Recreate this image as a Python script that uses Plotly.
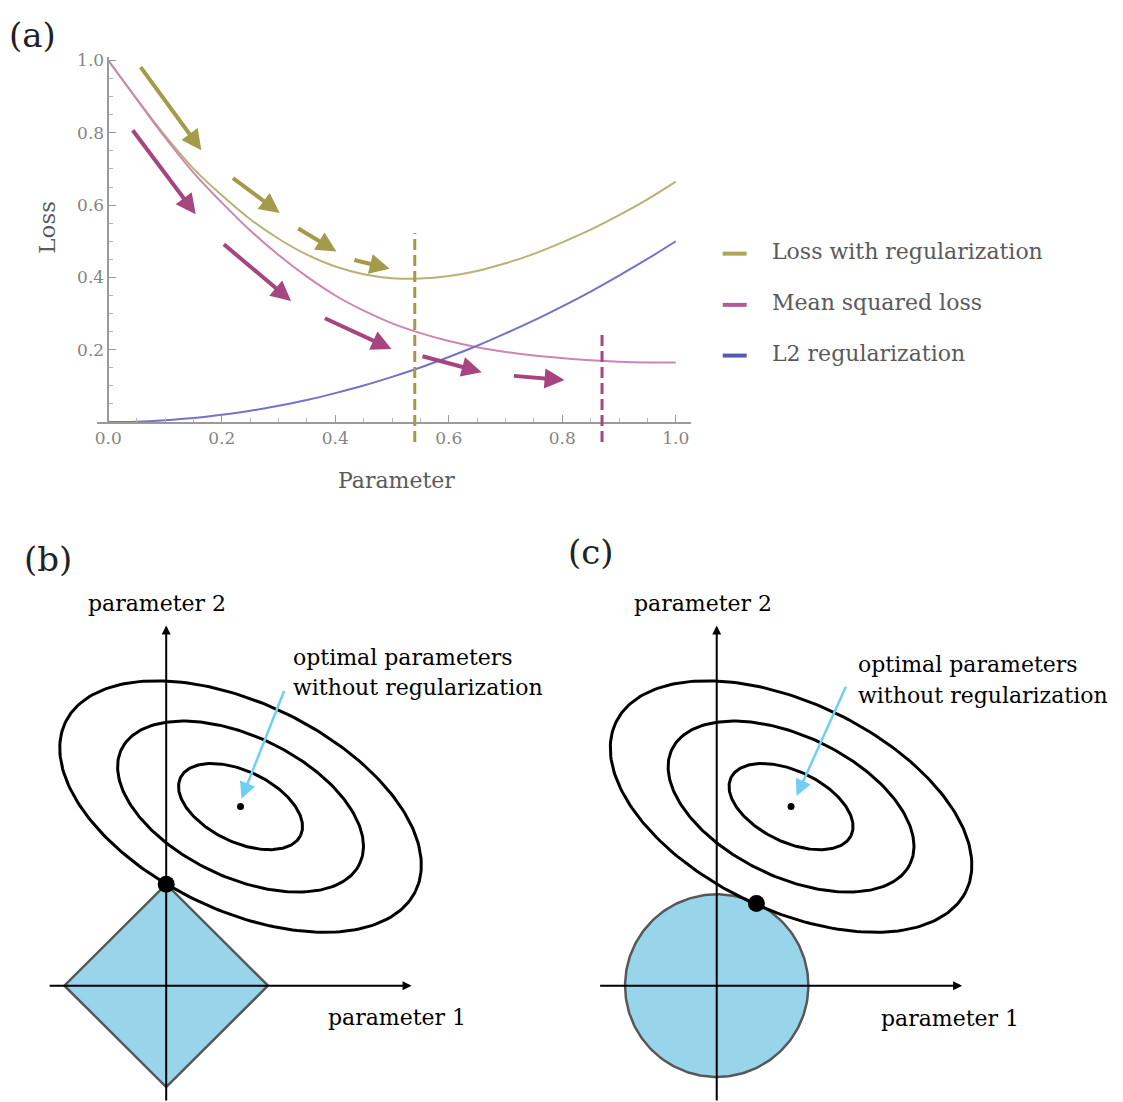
import numpy as np
import plotly.graph_objects as go

W, H = 1123, 1102
SERIF = "DejaVu Serif"

# ---------------- (a) loss vs parameter ----------------
param = [0.00, 0.05, 0.10, 0.15, 0.20, 0.25, 0.30, 0.35, 0.40, 0.45, 0.50,
         0.55, 0.60, 0.65, 0.70, 0.75, 0.80, 0.85, 0.90, 0.95, 1.00]
loss_with_reg = [1.000, 0.894, 0.792, 0.701, 0.627, 0.561, 0.507, 0.463, 0.430, 0.409, 0.398,
                 0.397, 0.404, 0.418, 0.439, 0.465, 0.497, 0.532, 0.572, 0.616, 0.665]
mean_squared = [1.000, 0.893, 0.787, 0.690, 0.607, 0.530, 0.462, 0.402, 0.350, 0.308, 0.273,
                0.246, 0.224, 0.207, 0.194, 0.184, 0.177, 0.171, 0.167, 0.165, 0.165]
l2_reg = [0.000, 0.001, 0.005, 0.011, 0.020, 0.031, 0.045, 0.061, 0.080, 0.101, 0.125,
          0.151, 0.180, 0.211, 0.245, 0.281, 0.320, 0.361, 0.405, 0.451, 0.500]
series_names = ["Loss with regularization", "Mean squared loss", "L2 regularization"]
x_ticks = [0.0, 0.2, 0.4, 0.6, 0.8, 1.0]
y_ticks = [0.2, 0.4, 0.6, 0.8, 1.0]

# minima marked with dashed lines: (parameter, top of line)
reg_min = (0.54, 0.523)
mse_min = (0.87, 0.248)
dash_bottom = -0.055

# gradient-descent steps: tail (x0, y0) -> tip (x1, y1)
gold_x0 = [0.055, 0.217, 0.332, 0.431]
gold_y0 = [0.986, 0.678, 0.538, 0.449]
gold_x1 = [0.164, 0.302, 0.402, 0.496]
gold_y1 = [0.752, 0.578, 0.472, 0.424]
pink_x0 = [0.041, 0.201, 0.379, 0.551, 0.712]
pink_y0 = [0.811, 0.495, 0.289, 0.183, 0.128]
pink_x1 = [0.154, 0.322, 0.499, 0.658, 0.804]
pink_y1 = [0.575, 0.335, 0.202, 0.138, 0.116]

curve_colors = ["#b9b274", "#cc86b3", "#7373c9"]
legend_colors = ["#aea55a", "#b45a95", "#5559b3"]
gold_arrow = "#a39b49"
pink_arrow = "#a6457f"
axis_gray = "#9a9a9a"

# ---------------- (b), (c) constraint diagrams ----------------
ellipse_center = (0.73, 1.765)
ellipse_semi = (1.91, 1.02)
ellipse_angle = -25.85
contour_levels = [1.0, 0.68, 0.343]
l1_radius = 1.0
l2_radius = 0.90
l1_solution = (0.0, 1.0)
l2_solution = (0.39, 0.81)
axis_extent = dict(left=-1.16, right=2.41, top=3.55)
region_fill = "#98d5ea"
pointer_color = "#6fcff5"

# pixel frame of each panel
A_X0, A_XS = 106.5, 568.5      # parameter 0 -> px, px per unit
A_Y0, A_YS = 418.3, 363.5      # loss 0 -> px, px per unit
U = 102.0                      # diagram px per unit
B_ORIGIN = (164.5, 985.0)
C_ORIGIN = (716.0, 985.0)


def px(x, y):
    return x / W, 1 - y / H


def ellipse_xy(cx, cy, a, b, ang_deg, n=240):
    t = np.linspace(0, 2 * np.pi, n)
    c, s = np.cos(np.radians(ang_deg)), np.sin(np.radians(ang_deg))
    return cx + a * np.cos(t) * c - b * np.sin(t) * s, cy + a * np.cos(t) * s + b * np.sin(t) * c


fig = go.Figure()

# curves
for vals, col in zip([loss_with_reg, mean_squared, l2_reg], curve_colors):
    fig.add_trace(go.Scatter(x=param, y=vals, mode="lines", line=dict(color=col, width=2, shape="spline"),
                             xaxis="x", yaxis="y", hoverinfo="skip"))

# dashed minimum markers (on an axis that reaches below zero)
for (xm, top), col in [(reg_min, gold_arrow), (mse_min, pink_arrow)]:
    fig.add_trace(go.Scatter(x=[xm, xm], y=[dash_bottom, top], mode="lines",
                             line=dict(color=col, width=3, dash="11px,5px"),
                             xaxis="x", yaxis="y4", hoverinfo="skip"))

annotations = []
for xs0, ys0, xs1, ys1, col in [(gold_x0, gold_y0, gold_x1, gold_y1, gold_arrow),
                                (pink_x0, pink_y0, pink_x1, pink_y1, pink_arrow)]:
    for a0, b0, a1, b1 in zip(xs0, ys0, xs1, ys1):
        annotations.append(dict(x=a1, y=b1, ax=a0, ay=b0, xref="x", yref="y", axref="x", ayref="y",
                                text="", showarrow=True, arrowhead=2, arrowsize=1.0, arrowwidth=4,
                                arrowcolor=col))

# legend drawn beside the plot
shapes = []
legend_rows = [249, 300.5, 351.5]
for name, col, ry in zip(series_names, legend_colors, legend_rows):
    x0p, y0p = px(722, ry)
    x1p, _ = px(746, ry)
    shapes.append(dict(type="line", xref="paper", yref="paper", x0=x0p, x1=x1p, y0=y0p, y1=y0p,
                       line=dict(color=col, width=4)))
    tx, ty = px(769, ry - 2)
    annotations.append(dict(x=tx, y=ty, xref="paper", yref="paper", text=name, showarrow=False,
                            xanchor="left", yanchor="middle",
                            font=dict(family=SERIF, size=22, color="#5a5a5a")))

# axis titles and panel tags
for text, (x, y), size, color, angle in [
    ("Loss", (45, 222), 23, "#5a5a5a", -90),
    ("Parameter", (395, 477), 22, "#5a5a5a", 0),
    ("(a)", (31, 29), 34, "#222222", 0),
    ("(b)", (46, 556), 34, "#222222", 0),
    ("(c)", (590, 549), 34, "#222222", 0),
]:
    xp, yp = px(x, y)
    annotations.append(dict(x=xp, y=yp, xref="paper", yref="paper", text=text, showarrow=False,
                            textangle=angle, xanchor="center", yanchor="middle",
                            font=dict(family=SERIF, size=size, color=color)))

# diagrams
for ax_id, region, solution, text_pos in [
    ("2", "diamond", l1_solution, dict(p2=(-0.093, 3.77), opt=(1.23, 3.235), wo=(1.23, 2.94),
                                     p1=(2.27, -0.314), tail=(1.164, 2.92), tip=(0.74, 1.843))),
    ("3", "circle", l2_solution, dict(p2=(-0.13, 3.77), opt=(1.37, 3.17), wo=(1.37, 2.86),
                                    p1=(2.29, -0.32), tail=(1.275, 2.96), tip=(0.784, 1.87))),
]:
    xa, ya = "x" + ax_id, "y" + ax_id
    if region == "diamond":
        r = l1_radius
        rx, ry = [r, 0, -r, 0, r], [0, r, 0, -r, 0]
    else:
        t = np.linspace(0, 2 * np.pi, 241)
        rx, ry = l2_radius * np.cos(t), l2_radius * np.sin(t)
    fig.add_trace(go.Scatter(x=rx, y=ry, mode="lines", fill="toself", fillcolor=region_fill,
                             line=dict(color="#575757", width=2.5), xaxis=xa, yaxis=ya, hoverinfo="skip"))
    for lvl in contour_levels:
        ex, ey = ellipse_xy(ellipse_center[0], ellipse_center[1],
                            ellipse_semi[0] * lvl, ellipse_semi[1] * lvl, ellipse_angle)
        fig.add_trace(go.Scatter(x=ex, y=ey, mode="lines", line=dict(color="black", width=3),
                                 xaxis=xa, yaxis=ya, hoverinfo="skip"))
    fig.add_trace(go.Scatter(x=[ellipse_center[0]], y=[ellipse_center[1]], mode="markers",
                             marker=dict(color="black", size=7), xaxis=xa, yaxis=ya, hoverinfo="skip"))
    fig.add_trace(go.Scatter(x=[solution[0]], y=[solution[1]], mode="markers",
                             marker=dict(color="black", size=17), xaxis=xa, yaxis=ya, hoverinfo="skip"))

    bottom = (B_ORIGIN[1] - H) / U
    # coordinate axes with arrow tips
    annotations.append(dict(x=0, y=axis_extent["top"], ax=0, ay=bottom, xref=xa, yref=ya,
                            axref=xa, ayref=ya, text="", showarrow=True, arrowhead=2,
                            arrowsize=0.9, arrowwidth=2, arrowcolor="black"))
    annotations.append(dict(x=axis_extent["right"], y=0, ax=axis_extent["left"], ay=0, xref=xa, yref=ya,
                            axref=xa, ayref=ya, text="", showarrow=True, arrowhead=2,
                            arrowsize=0.9, arrowwidth=2, arrowcolor="black"))
    # pointer to the unregularized optimum
    annotations.append(dict(x=text_pos["tip"][0], y=text_pos["tip"][1], ax=text_pos["tail"][0],
                            ay=text_pos["tail"][1], xref=xa, yref=ya, axref=xa, ayref=ya, text="",
                            showarrow=True, arrowhead=2, arrowsize=1.3, arrowwidth=2.5,
                            arrowcolor=pointer_color))
    for key, label, anchor in [("p2", "parameter 2", "center"), ("opt", "optimal parameters", "left"),
                               ("wo", "without regularization", "left"), ("p1", "parameter 1", "center")]:
        annotations.append(dict(x=text_pos[key][0], y=text_pos[key][1], xref=xa, yref=ya, text=label,
                                showarrow=False, xanchor=anchor, yanchor="middle",
                                font=dict(family=SERIF, size=22, color="black")))

# axis frames
ya_top = A_Y0 - 1.01 * A_YS
tick_font = dict(family=SERIF, size=17, color="#858585")
layout_axes = dict(
    xaxis=dict(domain=[(A_X0 - 0.02 * A_XS) / W, (A_X0 + 1.026 * A_XS) / W], range=[-0.02, 1.026],
               anchor="y", showline=True, linecolor=axis_gray, linewidth=1.5, showgrid=False,
               zeroline=False, ticks="inside", ticklen=7, tickwidth=1.2, tickcolor=axis_gray,
               tickvals=x_ticks, ticktext=[f"{v:.1f}" for v in x_ticks], tickfont=tick_font,
               minor=dict(ticks="inside", ticklen=4, dtick=0.05, tick0=0, tickcolor="#b5b5b5")),
    yaxis=dict(domain=[1 - A_Y0 / H, 1 - ya_top / H], range=[0, 1.01], anchor="free",
               position=A_X0 / W, showline=True, linecolor=axis_gray, linewidth=1.5, showgrid=False,
               zeroline=False, ticks="inside", ticklen=7, tickwidth=1.2, tickcolor=axis_gray,
               tickvals=y_ticks, ticktext=[f"{v:.1f}" for v in y_ticks], tickfont=tick_font,
               minor=dict(ticks="inside", ticklen=4, dtick=0.05, tick0=0, tickcolor="#b5b5b5")),
    yaxis4=dict(domain=[1 - (A_Y0 + 0.065 * A_YS) / H, 1 - ya_top / H], range=[-0.065, 1.01],
                anchor="x", visible=False),
)
for ax_id, (ox, oy), (dx0, dx1) in [("2", B_ORIGIN, (0, 561)), ("3", C_ORIGIN, (561, W))]:
    layout_axes["xaxis" + ax_id] = dict(domain=[dx0 / W, dx1 / W], range=[(dx0 - ox) / U, (dx1 - ox) / U],
                                        anchor="y" + ax_id, visible=False)
    layout_axes["yaxis" + ax_id] = dict(domain=[0, 1 - 520 / H], range=[(oy - H) / U, (oy - 520) / U],
                                        anchor="x" + ax_id, visible=False)

fig.update_layout(width=W, height=H, margin=dict(l=0, r=0, t=0, b=0), paper_bgcolor="white",
                  plot_bgcolor="rgba(0,0,0,0)", showlegend=False, annotations=annotations, shapes=shapes,
                  font=dict(family=SERIF), **layout_axes)

fig.write_html("out.html")
